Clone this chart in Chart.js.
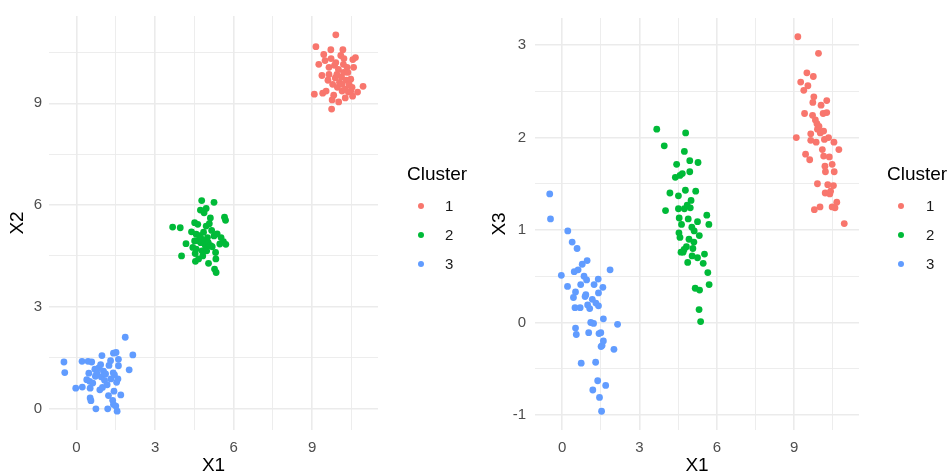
<!DOCTYPE html>
<html>
<head>
<meta charset="utf-8">
<script src="https://cdn.jsdelivr.net/npm/chart.js@4.4.1/dist/chart.umd.min.js"></script>
<style>
  html, body { margin: 0; padding: 0; background: #ffffff; }
  #wrap { position: relative; width: 947px; height: 474px; overflow: hidden; background: #ffffff; }
  canvas { position: absolute; top: 0; }
</style>
</head>
<body>
<div id="wrap">
  <canvas id="panelX2" width="470" height="474" style="left:0px;width:470px;height:474px"></canvas>
  <canvas id="panelX3" width="477" height="474" style="left:470px;width:477px;height:474px"></canvas>
</div>
<script>
// Cluster labels and colours
const clusters = ['1', '2', '3'];
const clusterColors = ['#F8766D', '#00BA38', '#619CFF'];

// Cluster 1
const c1X1 = [9.08, 9.14, 9.25, 9.37, 9.40, 9.44, 9.49, 9.53, 9.60, 9.64, 9.64, 9.71, 9.72, 9.74, 9.76, 9.78, 9.82, 9.85, 9.88, 9.90,
              9.90, 9.94, 9.96, 10.00, 10.01, 10.04, 10.09, 10.12, 10.14, 10.14, 10.17, 10.19, 10.20, 10.21, 10.26, 10.26, 10.30, 10.33, 10.36, 10.38,
              10.41, 10.47, 10.47, 10.52, 10.54, 10.55, 10.58, 10.65, 10.73, 10.94];
const c1X2 = [9.27, 10.67, 10.15, 9.82, 9.30, 10.44, 10.26, 9.36, 9.68, 10.06, 9.85, 10.58, 10.32, 8.83, 9.10, 9.56, 9.24, 10.12, 9.75, 11.02,
              10.20, 9.85, 9.47, 10.00, 9.04, 9.62, 10.41, 9.77, 9.56, 9.36, 10.58, 10.15, 9.91, 10.32, 9.42, 9.16, 9.68, 10.06, 9.91, 9.33,
              9.55, 9.71, 9.36, 9.47, 9.21, 10.29, 10.06, 10.35, 9.33, 9.50];
const c1X3 = [2.00, 3.09, 2.60, 2.51, 2.26, 1.82, 2.70, 2.56, 1.76, 2.04, 1.97, 2.24, 2.38, 2.66, 2.44, 1.22, 2.19, 1.95, 2.15, 2.09,
              1.50, 2.91, 2.12, 1.25, 2.05, 2.35, 1.87, 2.26, 2.07, 1.80, 1.98, 1.69, 1.40, 1.63, 2.40, 2.27, 1.49, 2.00, 1.79, 1.39,
              1.42, 1.71, 1.25, 1.48, 1.95, 1.63, 1.24, 1.30, 1.87, 1.07];

// Cluster 2
const c2X1 = [3.67, 3.96, 4.01, 4.18, 4.39, 4.44, 4.51, 4.51, 4.53, 4.54, 4.57, 4.57, 4.61, 4.63, 4.66, 4.69, 4.73, 4.74, 4.74, 4.78,
              4.79, 4.82, 4.85, 4.87, 4.89, 4.92, 4.95, 4.95, 4.97, 5.00, 5.03, 5.04, 5.07, 5.11, 5.12, 5.16, 5.18, 5.25, 5.25, 5.27,
              5.31, 5.32, 5.33, 5.37, 5.47, 5.52, 5.61, 5.65, 5.69, 5.70];
const c2X2 = [5.35, 5.33, 4.50, 4.86, 5.21, 4.75, 5.48, 4.94, 4.57, 4.34, 5.14, 4.70, 4.95, 5.43, 4.41, 5.10, 5.85, 5.04, 4.89, 6.13,
              4.65, 4.50, 5.20, 5.77, 4.95, 4.80, 5.90, 5.38, 4.65, 5.04, 4.89, 4.28, 5.45, 5.62, 4.80, 5.25, 4.77, 6.08, 5.09, 4.11,
              4.60, 4.41, 4.01, 5.15, 4.85, 5.04, 4.92, 5.64, 5.55, 4.84];
const c2X3 = [2.09, 1.91, 1.21, 1.40, 1.57, 1.71, 1.37, 1.23, 0.97, 1.13, 1.59, 0.92, 0.76, 1.06, 1.61, 0.76, 0.79, 1.85, 1.23, 1.43,
              2.05, 0.82, 1.27, 0.65, 1.12, 0.90, 1.75, 1.63, 1.24, 1.32, 1.03, 0.72, 0.80, 0.87, 0.99, 0.37, 1.42, 0.70, 1.09, 1.73,
              0.14, 0.94, 0.35, 0.01, 0.64, 0.74, 1.16, 0.54, 1.06, 0.41];

// Cluster 3
const c3X1 = [-0.48, -0.45, -0.03, 0.21, 0.22, 0.39, 0.44, 0.47, 0.50, 0.52, 0.52, 0.55, 0.58, 0.62, 0.70, 0.72, 0.74, 0.78, 0.85, 0.89,
              0.92, 0.95, 0.97, 0.99, 1.03, 1.07, 1.11, 1.17, 1.19, 1.22, 1.24, 1.30, 1.31, 1.38, 1.40, 1.41, 1.41, 1.43, 1.45, 1.50,
              1.51, 1.53, 1.55, 1.58, 1.60, 1.60, 1.69, 1.86, 2.01, 2.15];
const c3X2 = [1.37, 1.06, 0.60, 1.39, 0.63, 0.85, 1.39, 1.04, 0.80, 0.60, 0.31, 0.23, 1.37, 0.75, 1.16, 0.95, -0.01, 1.04, 1.20, 0.55,
              1.29, 0.93, 1.56, 0.62, 1.10, 0.83, 1.02, 0.70, -0.01, 0.38, 1.27, 1.41, 0.87, 0.24, 1.05, 1.63, 0.12, 0.51, 0.99, 0.07,
              1.65, 0.77, -0.08, 0.87, 1.26, 1.45, 0.40, 2.10, 1.14, 1.58];
const c3X3 = [1.39, 1.12, 0.51, 0.39, 0.99, 0.87, 0.27, 0.55, 0.16, 0.33, -0.06, -0.13, 0.80, 0.57, 0.16, 0.41, -0.44, 0.63, 0.50, 0.28,
              0.30, 0.46, 0.67, 0.19, -0.11, 0.15, 0.00, 0.25, -0.73, -0.01, 0.41, -0.43, 0.21, -0.63, 0.47, 0.32, 0.18, -0.12, -0.81, -0.11,
              -0.26, -0.96, -0.25, 0.38, 0.04, -0.20, -0.68, 0.57, -0.29, -0.02];

// Axis breaks (labelled) and minor breaks
const x1Breaks = [0, 3, 6, 9];
const x1Minor = [1.5, 4.5, 7.5, 10.5];
const x2Breaks = [0, 3, 6, 9];
const x2Minor = [1.5, 4.5, 7.5, 10.5];
const x3Breaks = [-1, 0, 1, 2, 3];
const x3Minor = [-0.5, 0.5, 1.5, 2.5];

const X1 = [c1X1, c2X1, c3X1];
const X2 = [c1X2, c2X2, c3X2];
const X3 = [c1X3, c2X3, c3X3];

const FONT = '"Liberation Sans", Arial, sans-serif';

// 5% padding on each side of the data range
function expandRange(groups) {
  const all = groups.flat();
  const lo = Math.min(...all), hi = Math.max(...all);
  const pad = (hi - lo) * 0.05;
  return [lo - pad, hi + pad];
}

function makeDatasets(ys) {
  return clusters.map((name, i) => ({
    label: name,
    data: X1[i].map((x, j) => ({ x: x, y: ys[i][j] })),
    backgroundColor: clusterColors[i],
    borderWidth: 0,
    pointRadius: 3.4,
    pointHoverRadius: 3.4
  }));
}

function makeAxis(range, breaks, minor, title, isX, size, tickPad, titlePad) {
  const all = breaks.concat(minor).sort((a, b) => a - b);
  const isMajor = v => breaks.some(b => Math.abs(b - v) < 1e-9);
  return {
    type: 'linear',
    position: isX ? 'bottom' : 'left',
    min: range[0],
    max: range[1],
    afterBuildTicks: scale => { scale.ticks = all.map(v => ({ value: v })); },
    afterFit: scale => { if (isX) scale.height = size; else scale.width = size; },
    border: { display: false },
    grid: {
      drawTicks: false,
      color: '#EBEBEB',
      lineWidth: ctx => (ctx.tick && isMajor(ctx.tick.value)) ? 1.6 : 0.9
    },
    ticks: {
      autoSkip: false,
      maxRotation: 0,
      padding: tickPad,
      color: '#4D4D4D',
      font: { family: FONT, size: 15 },
      callback: v => isMajor(v) ? String(v) : ''
    },
    title: {
      display: true,
      text: title,
      color: '#000000',
      font: { family: FONT, size: 19, lineHeight: 1 },
      padding: titlePad
    }
  };
}

// Legend drawn to the right of the panel
const clusterLegend = {
  id: 'clusterLegend',
  afterDraw(chart, args, opts) {
    const ctx = chart.ctx;
    ctx.save();
    ctx.textAlign = 'left';
    ctx.textBaseline = 'middle';
    ctx.fillStyle = '#000000';
    ctx.font = '19px ' + FONT;
    ctx.fillText(opts.title, opts.titleX, opts.titleY);
    ctx.font = '15px ' + FONT;
    chart.data.datasets.forEach((ds, i) => {
      const y = opts.firstY + i * opts.step;
      ctx.fillStyle = ds.backgroundColor;
      ctx.beginPath();
      ctx.arc(opts.dotX, y, 3.0, 0, Math.PI * 2);
      ctx.fill();
      ctx.fillStyle = '#1A1A1A';
      ctx.fillText(ds.label, opts.labelX, y + 0.5);
    });
    ctx.restore();
  }
};

function makeChart(id, ys, yBreaks, yMinor, yTitle, layoutPad, yWidth, yTickPad, yTitlePad, legendOpts) {
  return new Chart(document.getElementById(id), {
    type: 'scatter',
    data: { datasets: makeDatasets(ys) },
    options: {
      responsive: false,
      animation: false,
      devicePixelRatio: 1,
      events: [],
      layout: { padding: layoutPad },
      scales: {
        x: makeAxis(expandRange(X1), x1Breaks, x1Minor, 'X1', true, 44, 9, { top: 0, bottom: -1.5 }),
        y: makeAxis(expandRange(ys), yBreaks, yMinor, yTitle, false, yWidth, yTickPad, yTitlePad)
      },
      plugins: {
        legend: { display: false },
        tooltip: { enabled: false },
        clusterLegend: legendOpts
      }
    },
    plugins: [clusterLegend]
  });
}

makeChart('panelX2', X2, x2Breaks, x2Minor, 'X2',
  { left: 0, top: 13, right: 92, bottom: 0 }, 49, 7, { top: 8.5, bottom: 0 },
  { title: 'Cluster', titleX: 407, titleY: 175, dotX: 421, labelX: 445, firstY: 206, step: 29 });

makeChart('panelX3', X3, x3Breaks, x3Minor, 'X3',
  { left: 0, top: 13, right: 88, bottom: 0 }, 65, 9, { top: 20.5, bottom: 0 },
  { title: 'Cluster', titleX: 417, titleY: 175, dotX: 431, labelX: 456, firstY: 206, step: 29 });
</script>
</body>
</html>
